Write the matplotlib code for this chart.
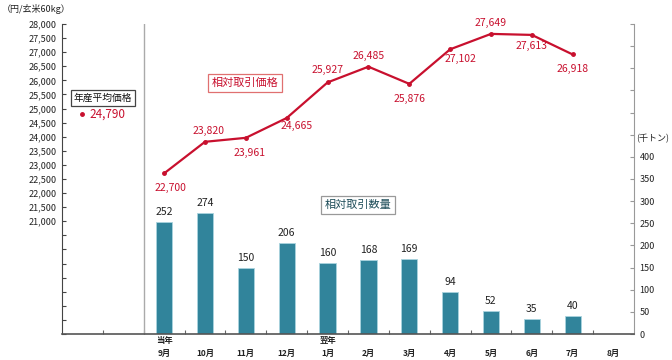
import matplotlib
matplotlib.use("Agg")
import matplotlib.pyplot as plt

plt.rcParams['font.family'] = ['Noto Sans CJK JP', 'DejaVu Sans']

months = ["9月", "10月", "11月", "12月", "1月", "2月", "3月", "4月", "5月", "6月", "7月", "8月"]
year_tags = ["当年", "", "", "", "翌年", "", "", "", "", "", "", ""]
price = [22700, 23820, 23961, 24665, 25927, 26485, 25876, 27102, 27649, 27613, 26918]
quantity = [252, 274, 150, 206, 160, 168, 169, 94, 52, 35, 40]
avg_price = 24790

# label offsets in pixels (dx, dy) for price labels
price_offsets = [(6, -15), (4, 11), (4, -15), (10, -8), (0, 12), (0, 11), (0, -15), (10, -10), (0, 11), (0, -11), (0, -14)]

RED = "#C8102E"
TEAL = "#31849B"

fig = plt.figure(figsize=(6.72, 3.6), dpi=100)
ax = fig.add_axes([62/672, 1-334/360, (634-62)/672, (334-24)/360])
ax2 = ax.twinx()
ax.set_zorder(ax2.get_zorder() + 1)
ax.patch.set_visible(False)

xs = list(range(2, 2 + len(months)))

# quantity bars (right axis)
ax2.bar(xs[:len(quantity)], quantity, width=0.4, color=TEAL, edgecolor="#A9D3DE", linewidth=0.6)
for x, q in zip(xs, quantity):
    ax2.annotate(f"{q}", (x, q), xytext=(0, 10), textcoords="offset pixels",
                 ha="center", va="center", fontsize=7.5, color="#222222")
ax2.set_ylim(0, 700)
ax2.set_yticks(range(0, 701, 50))
ax2.set_yticklabels([str(v) if v <= 400 else "" for v in range(0, 701, 50)])
ax2.tick_params(axis="y", direction="in", length=3, labelsize=6.5, colors="#999999",
                labelcolor="#222222", pad=4)

# price line (left axis)
ax.plot(xs[:len(price)], price, color=RED, linewidth=1.6, marker="o", markersize=2.5)
for x, p, (dx, dy) in zip(xs, price, price_offsets):
    ax.annotate(f"{p:,}", (x, p), xytext=(dx, dy), textcoords="offset pixels",
                ha="center", va="center", fontsize=7.5, color=RED)
ax.plot([0], [avg_price], marker="o", color=RED, markersize=2.5, linestyle="none")
ax.annotate(f"{avg_price:,}", (0, avg_price), xytext=(7, 0), textcoords="offset pixels",
            ha="left", va="center", fontsize=8.5, color=RED)

ax.set_ylim(17000, 28000)
ticks = list(range(17000, 28001, 500))
ax.set_yticks(ticks)
ax.set_yticklabels([f"{v:,}" if v >= 21000 else "" for v in ticks])
ax.tick_params(axis="y", direction="in", length=3, labelsize=6.5, colors="#444444",
               labelcolor="#222222", pad=4)

ax.set_xlim(-0.5, 13.5)
ax.set_xticks([i + 0.5 for i in range(13)])
ax.set_xticklabels([])
ax.tick_params(axis="x", direction="in", length=3, colors="#666666")
tr = ax.get_xaxis_transform()
for x, m, tag in zip(xs, months, year_tags):
    ax.text(x, -19/310, m, ha="center", va="center", fontsize=6, color="#222222",
            fontweight="bold", transform=tr)
    if tag:
        ax.text(x, -6/310, tag, ha="center", va="center", fontsize=6, color="#222222",
                fontweight="bold", transform=tr)
ax2.tick_params(axis="x", length=0)

ax.axvline(1.5, color="#AAAAAA", linewidth=1)

for a in (ax, ax2):
    a.spines["top"].set_visible(False)
ax.spines["left"].set_color("#444444")
ax.spines["bottom"].set_color("#555555")
ax.spines["bottom"].set_linewidth(1.2)
ax.spines["right"].set_visible(False)
ax2.spines["left"].set_visible(False)
ax2.spines["bottom"].set_visible(False)
ax2.spines["right"].set_color("#999999")

# legend-like boxes
ax.text(0.5, 25370, "年産平均価格", ha="center", va="center", fontsize=7, color="#111111",
        bbox=dict(boxstyle="square,pad=0.3", fc="white", ec="#444444", lw=0.9))
ax.text(3.98, 25900, "相対取引価格", ha="center", va="center", fontsize=8, color=RED,
        bbox=dict(boxstyle="square,pad=0.35", fc="white", ec="#E07070", lw=0.9))
ax.text(6.74, 21570, "相対取引数量", ha="center", va="center", fontsize=8, color="#1F4E5A",
        bbox=dict(boxstyle="square,pad=0.35", fc="white", ec="#999999", lw=0.9))

fig.text(2/672, 1-9/360, "（円/玄米60kg）", ha="left", va="center", fontsize=6.5, color="#222222")
fig.text(636/672, 1-139/360, "(千トン)", ha="left", va="center", fontsize=6.5, color="#222222")

fig.savefig("out.png", dpi=100)
